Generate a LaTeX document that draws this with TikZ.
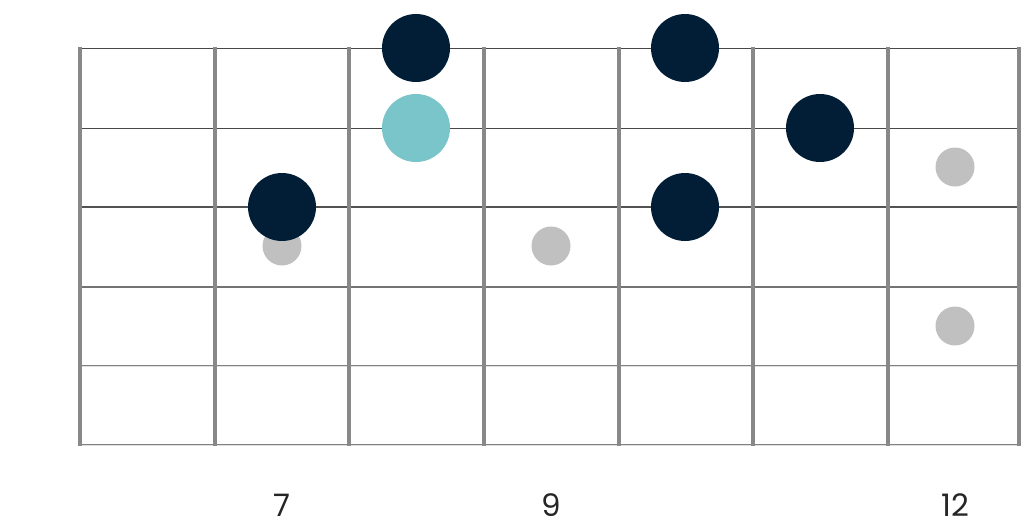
\documentclass[tikz,border=0pt]{standalone}
\usepackage{fontspec}
\setmainfont{Poppins}
\definecolor{navy}{RGB}{1, 30, 54}
\definecolor{teal}{RGB}{122, 197, 201}
\definecolor{inlay}{RGB}{192, 192, 192}
\definecolor{fretgray}{RGB}{136, 136, 136}
\tikzset{%
    note/.style={circle, fill=navy, minimum size=68pt, inner sep=0pt},
    rootnote/.style={note, fill=teal},
    marker/.style={circle, fill=inlay, minimum size=39pt, inner sep=0pt},
    fretnum/.style={font=\fontsize{31}{36}\selectfont, text=black!85}
}

\begin{document}
\begin{tikzpicture}[x=1pt, y=-1pt]

    \useasboundingbox (0, 0) rectangle (1024, 530);

    % Strings, thin to thick
    \foreach \y/\w/\c in {48/1pt/black!72, 128/1pt/black!72, 207/1.1pt/black!68,
                         287/1.8pt/black!55}{%
        \draw[line width=\w, \c] (80, \y) -- (1019, \y);
    };
    \foreach \y in {366, 445}{%
        \draw[draw=black!50, double=black!12, double distance=0.9pt, line width=1pt]
            (80, \y) -- (1019, \y);
    };

    % Frets
    \foreach \x in {80, 215, 349, 484, 619, 753, 888, 1019}{%
        \draw[line width=3.5pt, fretgray] (\x, 47) -- (\x, 446);
    };

    % Inlay markers
    \node[marker] (inlay7) at (282, 246) {};
    \node[marker] (inlay9) at (551, 246) {};
    \node[marker] (inlay12a) at (955, 167) {};
    \node[marker] (inlay12b) at (955, 326) {};

    % Scale notes
    \node[note] (n1) at (416, 48) {};
    \node[note] (n2) at (685, 48) {};
    \node[rootnote] (root) at (416, 128) {};
    \node[note] (n3) at (820, 128) {};
    \node[note] (n4) at (282, 207) {};
    \node[note] (n5) at (685, 207) {};

    % Fret numbers
    \node[fretnum] (num7) at (282, 505) {7};
    \node[fretnum] (num9) at (551, 505) {9};
    \node[fretnum] (num12) at (955, 505) {12};

\end{tikzpicture}
\end{document}
